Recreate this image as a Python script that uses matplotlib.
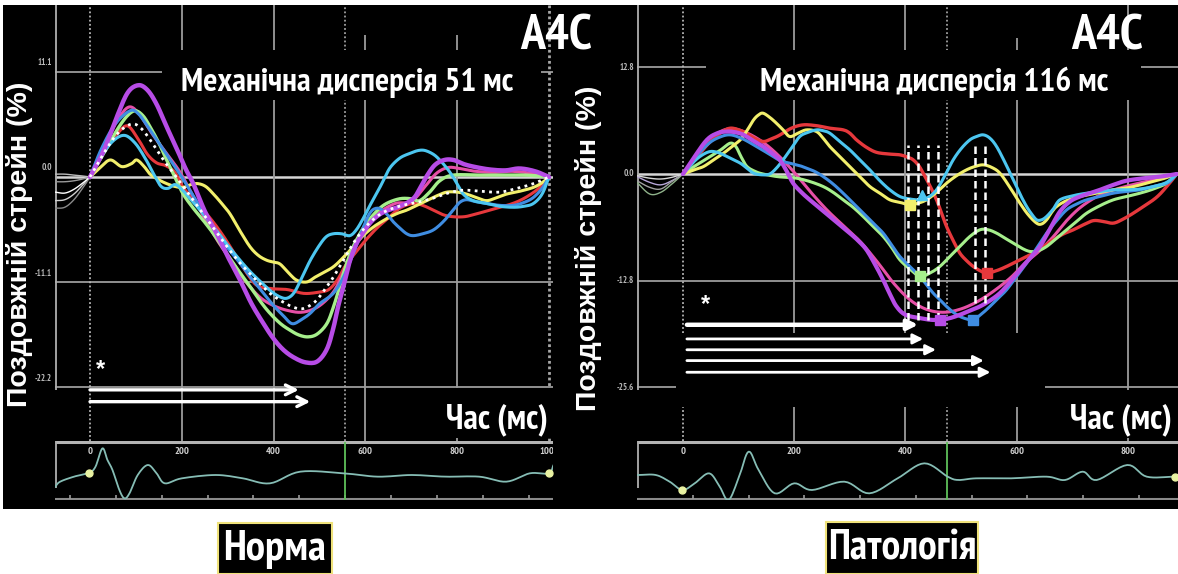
import os
import numpy as np
import matplotlib
matplotlib.use("Agg")
import matplotlib.pyplot as plt
from matplotlib import font_manager
from matplotlib.font_manager import FontProperties
from matplotlib.ft2font import FT2Font
from matplotlib.patches import Rectangle

W, H = 1178, 574

# ------------------------------------------------------------------ data
# ---- left panel (Норма)
L_TIME_TICKS = [0, 200, 400, 600, 800, 1000]
L_TIME_LABELS = ["0", "200", "400", "600", "800", "1000"]
L_STRAIN_TICKS = [11.1, 0.0, -11.1, -22.2]
L_STRAIN_LABELS = ["11.1", "0.0", "-11.1", "-22.2"]
L_AVC = 555
L_TITLE = "Механічна дисперсія 51 мс"

L_VIOLET = [(0,0),(30,2.8),(58,6.3),(82,8.9),(105,9.7),(125,9.2),(145,7.7),(168,5.2),(189,3.0),(208,0.9),(225,-0.7),(250,-3.6),(276,-6.0),(300,-8.4),(327,-10.9),(352,-13.4),(378,-15.5),(400,-17.1),(422,-18.3),(445,-19.1),(470,-19.6),(495,-19.5),(516,-18.2),(530,-16.0),(541,-13.6),(552,-11.6),(566,-8.9),(580,-7.1),(595,-5.9),(615,-4.6),(640,-3.7),(675,-3.1),(704,-2.3),(720,-1.1),(735,0.2),(752,1.3),(772,1.8),(792,1.8),(812,1.4),(835,1.1),(870,0.8),(905,0.7),(936,0.9),(970,0.6),(1000,0.0)]
L_PINK = [(0,0),(30,3.2),(60,6.0),(85,7.4),(108,6.6),(135,4.6),(165,2.6),(195,0.6),(220,-1.6),(250,-4.4),(280,-6.9),(310,-9.0),(340,-11.1),(370,-12.7),(400,-13.6),(430,-14.1),(460,-14.3),(490,-13.9),(515,-13.0),(535,-11.8),(555,-9.8),(575,-7.6),(600,-5.5),(630,-3.8),(665,-2.8),(700,-2.6),(730,-1.0),(755,0.4),(780,1.0),(805,0.9),(840,0.6),(880,0.5),(920,0.6),(960,0.4),(1000,0.0)]
L_RED = [(0,0),(30,2.6),(60,4.6),(82,5.4),(105,4.0),(125,2.4),(145,1.5),(165,1.2),(185,0.5),(203,-1.1),(230,-2.6),(261,-4.3),(290,-6.2),(320,-8.5),(345,-10.4),(365,-11.5),(395,-11.8),(430,-11.9),(465,-12.3),(495,-12.2),(520,-11.9),(540,-10.8),(556,-9.4),(580,-7.9),(602,-6.6),(625,-5.4),(646,-4.5),(675,-3.3),(704,-2.8),(725,-3.0),(748,-3.5),(770,-4.0),(791,-4.2),(815,-4.2),(834,-4.0),(864,-3.6),(893,-3.2),(915,-2.9),(936,-2.5),(958,-1.9),(980,-1.1),(1000,0.0)]
L_YELLOW = [(0,0),(20,0.9),(44,1.8),(69,1.1),(90,1.4),(102,1.8),(118,1.1),(131,0.3),(150,-0.3),(167,-0.7),(185,-1.0),(203,-1.1),(220,-0.8),(235,-0.7),(252,-1.0),(269,-1.8),(287,-2.8),(305,-3.9),(328,-5.8),(349,-7.4),(367,-8.3),(385,-8.8),(400,-9.0),(414,-9.2),(432,-10.1),(450,-10.9),(472,-11.1),(490,-10.6),(505,-10.2),(530,-9.5),(552,-8.5),(573,-7.4),(595,-6.2),(617,-5.3),(636,-4.7),(654,-4.2),(672,-3.8),(690,-3.5),(712,-3.0),(733,-2.5),(755,-2.0),(777,-1.6),(800,-1.6),(820,-1.8),(843,-2.2),(864,-2.5),(885,-2.2),(908,-1.8),(937,-1.5),(966,-1.1),(985,-0.6),(1000,0.0)]
L_GREEN = [(0,0),(30,2.5),(58,4.9),(80,6.4),(98,7.0),(115,6.5),(131,5.3),(150,3.6),(167,1.8),(185,0.0),(203,-1.8),(225,-3.3),(247,-4.6),(272,-6.2),(298,-8.1),(325,-10.0),(349,-11.6),(372,-13.2),(392,-14.4),(415,-15.5),(436,-16.2),(455,-16.7),(475,-16.9),(495,-16.6),(516,-15.5),(530,-13.8),(544,-11.6),(558,-9.3),(573,-7.4),(588,-6.0),(602,-4.9),(625,-3.6),(646,-2.8),(675,-2.3),(700,-2.3),(718,-2.5),(740,-1.6),(762,-0.4),(791,0.2),(849,0.2),(900,0.2),(951,0.2),(1000,0.0)]
L_CYAN = [(0,0),(25,2.2),(50,3.8),(75,4.4),(98,3.6),(120,2.0),(140,0.2),(155,-1.0),(170,-1.2),(185,-0.8),(200,-1.3),(220,-2.4),(245,-3.8),(270,-5.3),(295,-6.9),(320,-8.4),(345,-9.8),(370,-11.0),(395,-12.1),(415,-12.7),(430,-12.8),(445,-12.2),(462,-10.6),(480,-8.8),(500,-7.2),(515,-6.3),(530,-6.0),(548,-6.0),(566,-6.2),(580,-5.6),(595,-4.4),(610,-3.0),(625,-1.7),(640,-0.3),(654,1.0),(675,2.0),(697,2.5),(715,2.8),(730,2.8),(748,2.4),(762,1.8),(778,0.9),(791,0.0),(803,-1.0),(815,-1.9),(835,-2.5),(864,-2.8),(893,-3.1),(922,-3.2),(945,-3.1),(966,-2.8),(985,-1.8),(1000,0.0)]
L_BLUE = [(0,0),(25,3.0),(55,5.6),(87,7.0),(105,6.7),(125,5.4),(150,3.6),(175,1.8),(200,0.0),(225,-2.0),(250,-4.0),(275,-5.8),(300,-7.5),(325,-9.0),(350,-10.6),(375,-12.1),(400,-13.6),(420,-14.6),(440,-15.5),(460,-15.1),(480,-14.4),(500,-13.4),(530,-12.3),(552,-10.6),(570,-8.5),(590,-6.0),(610,-3.8),(628,-3.3),(646,-3.9),(660,-4.7),(675,-5.4),(690,-6.0),(704,-6.2),(725,-6.0),(748,-5.6),(770,-4.7),(791,-3.5),(805,-2.7),(820,-2.4),(840,-2.6),(864,-2.8),(893,-3.0),(922,-3.0),(945,-2.7),(965,-2.2),(985,-1.2),(1000,0.0)]
L_AVG = [(0,0),(30,2.5),(60,4.6),(90,5.6),(110,5.2),(130,4.0),(160,1.8),(185,0.2),(203,-1.0),(230,-2.8),(260,-4.8),(290,-6.8),(320,-8.7),(350,-10.3),(375,-11.5),(392,-12.3),(420,-13.2),(445,-13.8),(465,-13.9),(490,-13.2),(510,-12.0),(530,-10.6),(552,-8.8),(575,-6.9),(600,-5.3),(630,-4.0),(660,-3.3),(690,-2.9),(720,-2.6),(750,-2.2),(780,-1.7),(813,-1.4),(850,-1.5),(893,-1.6),(930,-1.2),(966,-0.7),(1000,0.0)]
L_PRE_T = [-76, -55, -35, -15, 0]
L_PRE = [[0.3, 0.3, 0.2, 0.1, 0.0],
         [-0.5, -0.5, -0.4, -0.2, 0.0],
         [-2.5, -2.4, -1.8, -0.8, 0.0],
         [-3.3, -3.2, -2.4, -1.1, 0.0]]
L_PRE_AVG = [-1.6, -1.7, -1.3, -0.6, 0.0]

L_ARROW_Y = [-22.5, -23.75]
L_ARROW_END = [455, 480]
L_ARROW_START = 0
L_STAR = (22, -20.4)

L_ECG_T = [-76,-65,-35,-2,12,27,38,49,64,75,86,104,126,145,163,200,274,333,392,458,553,627,701,774,848,907,958,999,1010]
L_ECG_V = [-3,-1.5,0,1.2,3,8.5,5,2,-4,-6.5,-5,0.5,3.5,1,-2,-0.5,0.5,-0.5,-2,1.5,1,0,0.5,0,0,-1.5,1,1,3.5]
L_ECG_DOTS_T = [-2, 999]
L_ECG_DOTS_V = [1.2, 1.0]
L_ECG_TICKS = [-44, 56, 156, 256, 356, 456, 556, 656, 756, 856, 956]

# ---- right panel (Патологія)
R_TIME_TICKS = [0, 200, 400, 600, 800]
R_TIME_LABELS = ["0", "200", "400", "600", "800"]
R_STRAIN_TICKS = [12.8, 0.0, -12.8, -25.6]
R_STRAIN_LABELS = ["12.8", "0.0", "-12.8", "-25.6"]
R_AVC = 475
R_TITLE = "Механічна дисперсія 116 мс"

R_RED = [(0,0),(20,1.6),(45,3.6),(65,4.8),(85,5.5),(108,5.1),(126,4.4),(144,3.9),(158,4.2),(172,4.6),(195,5.5),(216,5.9),(240,5.8),(264,5.5),(288,5.3),(300,4.9),(312,4.1),(330,3.2),(348,2.6),(370,2.4),(390,2.3),(405,2.0),(414,1.7),(424,1.0),(432,0.1),(444,-1.4),(456,-3.1),(465,-4.7),(474,-6.3),(486,-8.0),(498,-9.5),(510,-10.4),(522,-11.1),(534,-11.6),(546,-11.9),(564,-11.6),(582,-11.1),(606,-10.3),(630,-9.5),(648,-8.7),(666,-7.9),(684,-7.2),(702,-6.7),(720,-6.1),(738,-5.6),(756,-5.7),(774,-5.9),(792,-5.4),(810,-4.7),(828,-3.9),(846,-3.1),(858,-2.4),(870,-1.5),(880,-0.7),(888,0.0)]
R_PINK = [(0,0),(20,1.9),(40,3.6),(60,4.8),(80,5.4),(100,5.3),(125,4.6),(150,3.5),(175,2.0),(200,0.2),(230,-2.2),(260,-4.4),(290,-6.3),(320,-8.2),(350,-10.6),(380,-13.2),(410,-15.2),(440,-16.3),(470,-16.6),(500,-16.2),(530,-15.3),(560,-14.0),(590,-12.4),(615,-10.7),(640,-9.3),(665,-7.6),(690,-5.6),(715,-4.0),(745,-2.7),(780,-1.8),(820,-1.1),(860,-0.5),(888,0.0)]
R_VIOLET = [(0,0),(20,2.0),(43,4.1),(62,4.9),(79,5.1),(95,5.0),(109,4.7),(126,4.0),(144,3.3),(160,2.5),(174,1.7),(186,0.4),(198,-1.1),(213,-2.2),(228,-3.1),(246,-4.1),(264,-5.1),(282,-6.1),(300,-7.1),(315,-8.0),(330,-9.1),(345,-10.8),(360,-12.7),(372,-14.4),(384,-15.9),(400,-16.9),(426,-17.3),(445,-17.5),(462,-17.5),(480,-17.3),(498,-16.9),(516,-16.4),(534,-15.9),(552,-15.2),(570,-14.3),(588,-13.0),(606,-11.5),(624,-10.1),(642,-8.7),(660,-6.6),(678,-4.5),(696,-3.3),(714,-2.7),(732,-2.3),(750,-1.9),(774,-1.3),(798,-0.8),(830,-0.5),(860,-0.3),(888,0.0)]
R_BLUE = [(0,0),(20,1.8),(45,3.6),(65,4.4),(85,4.7),(108,4.2),(132,3.3),(155,2.4),(175,1.6),(192,1.3),(210,1.0),(222,0.7),(237,0.3),(252,-0.3),(270,-1.2),(288,-2.3),(306,-3.5),(324,-4.7),(342,-5.9),(360,-7.1),(375,-8.5),(390,-9.9),(408,-11.1),(426,-12.3),(438,-13.3),(450,-14.3),(462,-15.1),(474,-15.9),(486,-16.6),(498,-17.1),(510,-17.4),(522,-17.5),(537,-16.8),(552,-15.9),(567,-14.9),(582,-13.9),(600,-12.3),(618,-10.7),(636,-8.9),(654,-7.1),(672,-5.6),(690,-4.3),(708,-3.6),(726,-3.1),(750,-2.7),(774,-2.3),(798,-2.1),(822,-1.9),(846,-1.5),(870,-1.1),(880,-0.6),(888,0.0)]
R_CYAN = [(0,0),(20,1.5),(35,2.3),(49,2.7),(62,2.6),(73,2.3),(88,1.8),(103,1.3),(115,0.7),(127,0.1),(142,-0.1),(156,0.0),(168,0.7),(180,1.7),(195,3.1),(210,4.5),(225,5.0),(240,5.3),(252,5.2),(264,4.9),(282,3.9),(300,2.9),(318,1.7),(336,0.5),(354,-0.8),(372,-1.9),(390,-2.7),(408,-3.0),(426,-3.1),(441,-2.8),(456,-1.9),(471,-0.2),(486,1.7),(501,3.1),(516,4.1),(528,4.5),(540,4.7),(552,4.3),(564,3.3),(579,1.4),(594,-0.7),(606,-2.4),(618,-3.9),(627,-4.8),(636,-5.5),(645,-5.5),(654,-5.1),(666,-4.2),(678,-3.1),(702,-2.6),(726,-2.3),(750,-2.1),(774,-1.9),(798,-1.9),(822,-1.8),(846,-1.5),(870,-1.0),(888,0.0)]
R_YELLOW = [(0,0),(20,0.5),(37,0.9),(55,1.7),(73,2.5),(88,3.3),(103,4.1),(115,5.2),(127,6.5),(136,7.1),(144,7.3),(156,6.8),(168,6.1),(180,5.3),(192,4.5),(207,4.9),(222,5.3),(240,5.1),(252,4.3),(264,3.3),(282,2.1),(300,0.9),(318,-0.3),(336,-1.5),(354,-2.3),(372,-3.1),(390,-3.4),(408,-3.7),(423,-3.5),(438,-3.1),(456,-2.2),(474,-1.1),(492,-0.2),(510,0.5),(525,0.9),(540,1.1),(555,0.8),(570,0.1),(588,-1.6),(606,-3.5),(621,-4.9),(636,-5.9),(645,-6.0),(654,-5.5),(663,-4.6),(672,-3.9),(690,-3.2),(714,-2.7),(744,-2.3),(774,-1.9),(804,-1.6),(834,-1.1),(862,-0.6),(888,0.0)]
R_GREEN = [(0,0),(20,0.9),(49,2.1),(68,2.9),(85,3.7),(95,3.3),(105,2.0),(115,0.9),(130,0.3),(144,0.0),(168,-0.3),(186,-0.4),(204,-0.5),(228,-0.9),(252,-1.5),(270,-2.2),(288,-3.1),(306,-4.0),(324,-5.1),(342,-6.3),(360,-7.5),(375,-8.8),(390,-10.3),(408,-11.4),(426,-12.3),(444,-11.9),(462,-11.1),(480,-9.9),(498,-8.7),(516,-7.5),(534,-6.7),(549,-6.7),(564,-7.1),(579,-7.7),(594,-8.3),(609,-8.9),(624,-9.3),(639,-9.2),(654,-8.7),(672,-7.7),(690,-6.7),(708,-5.7),(726,-4.7),(750,-3.8),(774,-3.1),(798,-2.7),(822,-2.3),(846,-1.8),(870,-1.1),(888,0.0)]
R_PRE_T = [-83, -60, -40, -20, 0]
R_PRE = [[-1.0, -2.4, -2.2, -1.2, 0.0],
         [-0.3, -1.0, -1.3, -0.8, 0.0],
         [-0.8, -1.6, -1.8, -0.9, 0.0],
         [-0.2, -0.5, -0.6, -0.4, 0.0]]

R_MARK_T = [408, 429, 426, 462, 522, 546]
R_MARK_S = [-3.7, -2.5, -12.3, -17.5, -17.5, -11.9]
R_DASH_T1 = [405, 423, 441, 459]
R_DASH_T2 = [525, 543]
R_DASH_TOP = 3.5
R_DASH_BOT1 = -17.5
R_DASH_BOT2 = -15.5

R_ARROW_Y = [-18.1, -19.8, -21.1, -22.4, -23.8]
R_ARROW_END = [423, 432, 455, 541, 553]
R_ARROW_START = 7
R_STAR = (41, -15.7)

R_ECG_T = [-81,-49,-24,-1,21,47,66,82,101,118,136,165,200,232,290,335,386,434,476,495,527,590,654,687,719,744,799,834,885]
R_ECG_V = [0.5,0.5,-1.5,-4,-2,1,-3,-7,0,7.5,2,-5,-2,-4,-1.5,-5,-0.5,4,0,-1,-0.5,-0.5,0,-1,1.5,-1,3.5,0,0]
R_ECG_DOTS_T = [-1, 885]
R_ECG_DOTS_V = [-4, 0]
R_ECG_TICKS = [18, 118, 218, 318, 419, 520, 619, 720, 821]

# colours
C_VIOLET = "#b74ce6"
C_PINK = "#e64fa6"
C_RED = "#e6383c"
C_YELLOW = "#f2ef6c"
C_GREEN = "#a6ef8c"
C_CYAN = "#4cc6f0"
C_BLUE = "#3f8de2"
C_GRID = "#9c9c9c"
C_ECG = "#86bdb5"

# ------------------------------------------------------------------ fonts
def pick_font(candidates, min_weight=700):
    for cand in candidates:
        for f in font_manager.fontManager.ttflist:
            if f.name != cand or f.style != "normal":
                continue
            if "[" in os.path.basename(f.fname):
                continue
            try:
                w = int(f.weight)
            except (TypeError, ValueError):
                w = 700 if str(f.weight) == "bold" else 400
            if w < min_weight or w > 760:
                continue
            try:
                if FT2Font(f.fname).get_char_index(ord("ж")) == 0:
                    continue
            except Exception:
                continue
            return f.fname
    return None


narrow_path = pick_font(["PT Sans Narrow", "Roboto Condensed", "Fira Sans Condensed",
                         "IBM Plex Sans Condensed", "Liberation Sans Narrow", "Archivo Narrow",
                         "Open Sans Condensed"])
if narrow_path:
    FP_N = FontProperties(fname=narrow_path)
    NS = 1.0
else:
    FP_N = FontProperties(family="Liberation Sans", weight="bold")
    NS = 0.85
FP_B = FontProperties(family="Liberation Sans", weight="bold")


def fpn(size):
    p = FP_N.copy()
    p.set_size(size * NS)
    return p


def fpb(size):
    p = FP_B.copy()
    p.set_size(size)
    return p


def catmull(pts, n=10):
    P = np.asarray(pts, float)
    P = np.vstack([2 * P[0] - P[1], P, 2 * P[-1] - P[-2]])
    out = []
    u = np.linspace(0, 1, n, endpoint=False)[:, None]
    for i in range(1, len(P) - 2):
        p0, p1, p2, p3 = P[i - 1], P[i], P[i + 1], P[i + 2]
        seg = 0.5 * ((2 * p1) + (-p0 + p2) * u + (2 * p0 - 5 * p1 + 4 * p2 - p3) * u ** 2
                     + (-p0 + 3 * p1 - 3 * p2 + p3) * u ** 3)
        out.append(seg)
    out.append(P[-2][None, :])
    return np.vstack(out)


fig = plt.figure(figsize=(W / 100, H / 100), dpi=100)
fig.patch.set_facecolor("white")
bg = fig.add_axes([0, 0, 1, 1])
bg.set_xlim(0, W)
bg.set_ylim(H, 0)
bg.axis("off")
bg.add_patch(Rectangle((3, 5), W - 3, 504, facecolor="black", edgecolor="none", zorder=0))
PX = bg.transData


def pax(x0, x1, y0, y1):
    a = fig.add_axes([x0 / W, 1 - y1 / H, (x1 - x0) / W, (y1 - y0) / H])
    a.axis("off")
    a.patch.set_alpha(0)
    return a


def build_panel(cfg):
    px0, kx, py0, ky = cfg["map"]
    gx0, gx1 = cfg["gx"]
    t_of = lambda px: (px - px0) / kx
    s_of = lambda py: (py0 - py) / ky
    ax = pax(gx0, gx1, 5, 441)
    ax.set_xlim(t_of(gx0), t_of(gx1))
    ax.set_ylim(s_of(441), s_of(5))
    tl, tr = t_of(gx0), t_of(gx1)
    stop = s_of(5)
    sbot = s_of(441)
    for s in cfg["sticks"]:
        bright = (s == 0)
        ax.hlines(s, tl, min(tr, cfg["tmax_grid"]), color="#d6d6d6" if bright else C_GRID,
                  lw=1.8 if bright else 1.3, zorder=1)
    for t in cfg["tticks"]:
        if t == 0:
            continue
        top = s_of(cfg["vtop"].get(t, 5))
        if t == cfg["border_t"]:
            ax.vlines(t, sbot, top, color="#a8a8a8", lw=2.0, linestyle=(0, (1, 1)), zorder=1)
        else:
            ax.vlines(t, sbot, top, color=C_GRID, lw=1.3, zorder=1)
    ax.vlines(0, sbot, stop, color="#b5b5b5", lw=1.3, linestyle=(0, (1, 1.3)), zorder=1)
    ax.vlines(cfg["avc"], sbot, stop, color="#a0a0a0", lw=1.3, linestyle=(0, (1, 1.3)), zorder=1)
    ax.vlines(tl + 0.5 / kx, s_of(390), stop, color="#b0b0b0", lw=1.3, zorder=1)
    for s, lab in zip(cfg["sticks"], cfg["slabels"]):
        ax.text(gx0 - 3, py0 - ky * s + cfg["lab_dy"], lab, transform=PX, ha="right", va="center",
                fontproperties=fpn(6.5), color="#b8b8b8", clip_on=False)
    for (x0, y0, x1, y1) in cfg["masks"]:
        ax.add_patch(Rectangle((x0, y0), x1 - x0, y1 - y0, transform=PX, facecolor="black",
                               edgecolor="none", zorder=3, clip_on=False))
    for vals, col in zip(cfg["pre"], cfg["pre_cols"]):
        c = catmull(list(zip(cfg["pre_t"], vals)), 8)
        ax.plot(c[:, 0], c[:, 1], color=col, lw=1.0, zorder=4, solid_capstyle="round")
    for pts, col, lw, ls in cfg["curves"]:
        c = catmull(pts, 10)
        ax.plot(c[:, 0], c[:, 1], color=col, lw=lw, linestyle=ls, zorder=5,
                solid_capstyle="round", solid_joinstyle="round")
    for i, (y, te) in enumerate(zip(cfg["arrow_y"], cfg["arrow_end"])):
        lw = cfg["arrow_lw"][i]
        ax.annotate("", xy=(te, y), xytext=(cfg["arrow_start"], y),
                    arrowprops=dict(arrowstyle=cfg["arrow_style"], color="white", lw=lw,
                                    shrinkA=0, shrinkB=0), zorder=6)
    ax.text(cfg["star"][0], cfg["star"][1], "*", color="white", fontproperties=fpb(17),
            ha="center", va="center", zorder=6)
    ax.text(cfg["title_x"], 91, cfg["title"], transform=PX, ha="center", va="baseline",
            fontproperties=fpn(24), color="white", zorder=7, clip_on=False)
    ax.text(cfg["a4c_x"], 50, "A4C", transform=PX, ha="center", va="baseline",
            fontproperties=fpn(36), color="white", zorder=7, clip_on=False)
    ax.text(cfg["time_x"], 428, "Час (мс)", transform=PX, ha="right", va="baseline",
            fontproperties=fpn(25), color="white", zorder=7, clip_on=False)
    ax.text(cfg["ylab_x"], cfg["ylab_y"], "Поздовжній стрейн (%)", transform=PX, ha="center",
            va="center", rotation=90, fontproperties=fpb(20.5), color="white", zorder=7,
            clip_on=False)

    ex1 = cfg["ecg_x1"]
    e = pax(gx0, ex1, 441, 500)
    e.set_xlim(t_of(gx0), t_of(ex1))
    e.set_ylim(-7, 10.7)
    e.hlines(10.7 - 0.25, t_of(gx0), t_of(ex1), color="#b4b4b4", lw=2.2, zorder=1)
    e.hlines(-7 + 0.2, t_of(gx0), t_of(ex1), color="#8a8a8a", lw=1.5, zorder=1)
    e.vlines(t_of(gx0) + 0.6 / kx, -3.5, 10.7, color="#b0b0b0", lw=1.3, zorder=1)
    for t in cfg["ecg_ticks"]:
        e.vlines(t, -6.8, -5.6, color="#9a9a9a", lw=1.2, zorder=1)
    for t, lab in zip(cfg["tticks"], cfg["tlabels"]):
        e.text(t, 7.5, lab, ha="center", va="center", fontproperties=fpn(7.5), color="#d0d0d0",
               clip_on=True, zorder=2)
    e.vlines(cfg["avc"], -7, 10.5, color="#5fc05a", lw=1.3, zorder=2)
    c = catmull(list(zip(cfg["ecg_t"], cfg["ecg_v"])), 8)
    e.plot(c[:, 0], c[:, 1], color=C_ECG, lw=1.3, zorder=3)
    e.plot(cfg["ecg_dt"], cfg["ecg_dv"], "o", ms=5, color="#e9f2a2", zorder=4)
    return ax


left_cfg = dict(
    map=(90, 0.459, 177, 9.46), gx=(55, 553), ecg_x1=553,
    sticks=L_STRAIN_TICKS, slabels=L_STRAIN_LABELS, lab_dy=-9,
    tticks=L_TIME_TICKS, tlabels=L_TIME_LABELS, tmax_grid=1008, border_t=1000,
    vtop={600: 35, 800: 35}, avc=L_AVC,
    masks=[(162, 50, 541, 100), (430, 388, 560, 438)],
    pre=L_PRE + [L_PRE_AVG], pre_t=L_PRE_T,
    pre_cols=["#bdbdbd", "#9a9a9a", "#cfcfcf", "#8a8a8a", "#ffffff"],
    curves=[(L_RED, C_RED, 2.2, "-"), (L_PINK, C_PINK, 2.2, "-"), (L_YELLOW, C_YELLOW, 2.2, "-"),
            (L_GREEN, C_GREEN, 2.4, "-"), (L_BLUE, C_BLUE, 2.2, "-"), (L_CYAN, C_CYAN, 2.2, "-"),
            (L_VIOLET, C_VIOLET, 3.2, "-"), (L_AVG, "white", 2.0, (0, (1, 1.6)))],
    arrow_y=L_ARROW_Y, arrow_end=L_ARROW_END, arrow_start=L_ARROW_START,
    arrow_style="->,head_length=0.7,head_width=0.35", arrow_lw=[2.4, 2.4], star=L_STAR,
    title=L_TITLE, title_x=347, a4c_x=556, time_x=548, ylab_x=20, ylab_y=244,
    ecg_ticks=L_ECG_TICKS, ecg_t=L_ECG_T, ecg_v=L_ECG_V, ecg_dt=L_ECG_DOTS_T, ecg_dv=L_ECG_DOTS_V,
)

right_cfg = dict(
    map=(683, 0.556, 174, 8.33), gx=(637, 1178), ecg_x1=1178,
    sticks=R_STRAIN_TICKS, slabels=R_STRAIN_LABELS, lab_dy=0,
    tticks=R_TIME_TICKS, tlabels=R_TIME_LABELS, tmax_grid=1000, border_t=None,
    vtop={600: 38}, avc=R_AVC,
    masks=[(706, 50, 1141, 100), (1060, 390, 1178, 438), (676, 333, 1045, 407)],
    pre=R_PRE, pre_t=R_PRE_T,
    pre_cols=["#8fb28a", "#b7a6d8", "#a0a0a0", "#d8d8d8"],
    curves=[(R_PINK, C_PINK, 2.2, "-"), (R_RED, C_RED, 2.4, "-"), (R_GREEN, C_GREEN, 2.2, "-"),
            (R_YELLOW, C_YELLOW, 2.2, "-"), (R_BLUE, C_BLUE, 2.2, "-"), (R_CYAN, C_CYAN, 2.2, "-"),
            (R_VIOLET, C_VIOLET, 3.0, "-")],
    arrow_y=R_ARROW_Y, arrow_end=R_ARROW_END, arrow_start=R_ARROW_START,
    arrow_style="-|>,head_length=0.6,head_width=0.3", arrow_lw=[3.2, 2.0, 2.0, 2.0, 2.0],
    star=R_STAR,
    title=R_TITLE, title_x=934, a4c_x=1107, time_x=1172, ylab_x=589, ylab_y=248,
    ecg_ticks=R_ECG_TICKS, ecg_t=R_ECG_T, ecg_v=R_ECG_V, ecg_dt=R_ECG_DOTS_T, ecg_dv=R_ECG_DOTS_V,
)

axL = build_panel(left_cfg)
axR = build_panel(right_cfg)

for t in R_DASH_T1:
    axR.vlines(t, R_DASH_BOT1, R_DASH_TOP, color="white", lw=1.8, linestyle=(0, (3, 1.6)), zorder=6)
for t in R_DASH_T2:
    axR.vlines(t, R_DASH_BOT2, R_DASH_TOP, color="white", lw=1.8, linestyle=(0, (3, 1.6)), zorder=6)
mark_cols = [C_YELLOW, C_CYAN, C_GREEN, C_VIOLET, C_BLUE, C_RED]
mark_sty = ["s", "^", "s", "s", "s", "s"]
for t, s, c, m in zip(R_MARK_T, R_MARK_S, mark_cols, mark_sty):
    axR.plot([t], [s], marker=m, ms=7, color=c, zorder=7, linestyle="none")

for (x0, x1, y0, y1, txt, fs) in [(218, 332, 523, 574, "Норма", 31),
                                  (826, 978, 522, 574, "Патологія", 30)]:
    bg.add_patch(Rectangle((x0, y0), x1 - x0, y1 - y0, facecolor="black", edgecolor="#efe27a",
                           lw=1.5, zorder=2))
    bg.text((x0 + x1) / 2, (y0 + y1) / 2 + 1, txt, ha="center", va="center", color="white",
            fontproperties=fpn(fs), zorder=3)

fig.savefig("out.png", dpi=100, facecolor="white")
